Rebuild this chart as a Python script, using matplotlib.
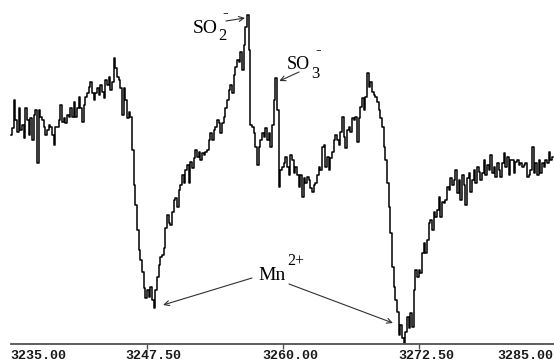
import numpy as np
import matplotlib
matplotlib.use("Agg")
import matplotlib.pyplot as plt

# EPR sweep: magnetic field (G), uniformly stepped
field_start = 3235.05
field_stop = 3284.76

# signal (a.u.), one value per field step
signal = [
    209, 216, 244, 224, 212, 236, 214, 219, 206, 236, 224, 209, 226, 204, 229, 234, 181, 234, 227, 224,
    217, 209, 214, 219, 217, 209, 199, 217, 217, 224, 239, 222, 226, 221, 229, 227, 236, 227, 242, 227,
    236, 247, 236, 222, 239, 247, 251, 257, 262, 251, 244,
    251, 256, 249, 259, 252, 246, 264, 259, 267, 254, 262, 286, 276, 267, 264, 256, 229, 256, 244, 226,
    232, 227, 194, 159, 139, 114, 94, 84, 72, 56, 46, 54, 47, 57, 44, 36, 54, 67, 79, 87,
    89, 96, 116, 129, 121, 119, 132, 144, 146, 137, 154, 159, 169, 161, 174, 179, 161, 182, 176, 186,
    194, 187, 192, 184, 191, 189, 192, 194, 204, 211, 204, 214, 217, 224, 221, 211, 221, 227, 236, 244,
    254, 259, 251, 269, 277, 284, 282, 292, 274, 299, 317, 329, 294, 219, 217, 211, 197, 179, 197, 204,
    211, 207, 216, 204, 211, 197, 219, 244, 266, 234, 157,
    174, 177, 181, 187, 177, 169, 189, 184, 171, 177, 169, 157, 169, 147, 166, 161, 167, 164, 156, 152,
    159, 161, 169, 177, 174, 197, 199, 177, 187, 174, 186, 192, 204, 209, 204, 199, 212, 227, 207, 196,
    214, 217, 212, 226, 224, 227, 202, 226,
    237, 246, 234, 247, 271, 257, 262, 252, 249, 247, 242, 234, 226, 217, 197, 184, 161, 137, 111, 77,
    57, 44, 32, 9, 19, 6, 1, 12, 27, 16, 31, 17, 54, 74, 67, 74, 71, 91, 101, 91,
    104, 121, 124, 114, 132, 127, 134, 147, 127, 142, 141, 144, 157, 154, 166, 159, 164, 174, 151, 164,
    144, 169, 159, 139, 166, 171, 152, 164, 174, 161, 177, 172, 164, 171, 184, 169, 179, 174, 189, 171,
    177, 167, 181, 174, 167, 181, 191, 177, 187, 169, 184, 184, 171, 182, 184, 179, 181, 177, 179, 181,
    167, 169, 174, 197, 171, 181, 169, 184, 171, 181, 177, 184, 181, 192, 184, 187,
]

tick_values = [3235.0, 3247.5, 3260.0, 3272.5, 3285.0]
tick_labels = ["3235.00", "3247.50", "3260.00", "3272.50", "3285.00"]

signal = np.array(signal)
field = np.linspace(field_start, field_stop, len(signal))

fig = plt.figure(figsize=(5.54, 3.62), dpi=100)
ax = fig.add_axes([10.5 / 554, 18 / 362, 543.5 / 554, 344 / 362])
ax.set_xlim(3235.0, 3284.88)
ax.set_ylim(0, 344)

ax.plot(field, signal, color="black", lw=1.1, drawstyle="steps-mid", clip_on=False)

for s in ["top", "right", "left"]:
    ax.spines[s].set_visible(False)
ax.spines["bottom"].set_color("#505050")
ax.spines["bottom"].set_linewidth(1.3)
ax.set_yticks([])
ax.set_xticks(tick_values[1:4])
ax.set_xticklabels([])
ax.tick_params(axis="x", direction="out", length=3.5, width=1, color="#505050")

# tick labels, shifted right of their ticks like the original plot
label_font = dict(family="Liberation Mono", weight="bold", size=9.6, color="#1a1a1a")
for val, lab in zip(tick_values, tick_labels):
    if val == tick_values[0]:
        ha, dx = "left", 0
    elif val == tick_values[-1]:
        ha, dx = "right", -1
        val = 3284.88
    else:
        ha, dx = "center", 7
    ax.annotate(lab, xy=(val, 0), xycoords=("data", "axes fraction"),
                xytext=(dx, -15), textcoords="offset pixels",
                ha=ha, va="baseline", annotation_clip=False, **label_font)

# peak positions taken from the data
i_so2 = int(np.argmax(signal))
i_so3 = 150 + int(np.argmax(signal[150:165]))
half = len(signal) // 2
i_mn1 = int(np.argmin(signal[:half]))
i_mn2 = half + int(np.argmin(signal[half:]))

serif = "Liberation Serif"
arrow = dict(arrowstyle="->", color="#303030", lw=0.8, shrinkA=0, shrinkB=0,
             mutation_scale=9)

# SO2- label
fig.text(193 / 554, 329 / 362, "SO", family=serif, size=14, va="baseline")
fig.text(218 / 554, 322 / 362, "2", family=serif, size=12, va="baseline")
fig.text(222 / 554, 349 / 362, "-", family=serif, size=12, va="center")
ax.annotate("", xy=(field[i_so2] - 0.25, signal[i_so2] - 3),
            xytext=(226, 341), textcoords="figure pixels", arrowprops=arrow)

# SO3- label
fig.text(287 / 554, 293 / 362, "SO", family=serif, size=13, va="baseline")
fig.text(311 / 554, 284 / 362, "3", family=serif, size=12, va="baseline")
fig.text(315 / 554, 312 / 362, "-", family=serif, size=12, va="center")
ax.annotate("", xy=(field[i_so3] + 0.3, signal[i_so3] - 3),
            xytext=(299, 290), textcoords="figure pixels", arrowprops=arrow)

# Mn2+ label with two arrows
fig.text(258 / 554, 82 / 362, "Mn", family=serif, size=14, va="baseline")
fig.text(287 / 554, 97 / 362, "2+", family=serif, size=11.5, va="baseline")
ax.annotate("", xy=(field[i_mn1] + 0.8, signal[i_mn1] + 3),
            xytext=(252, 84), textcoords="figure pixels", arrowprops=arrow)
ax.annotate("", xy=(field[i_mn2] - 1.05, signal[i_mn2] + 20),
            xytext=(289, 78), textcoords="figure pixels", arrowprops=arrow)

fig.savefig("out.png", dpi=100)
